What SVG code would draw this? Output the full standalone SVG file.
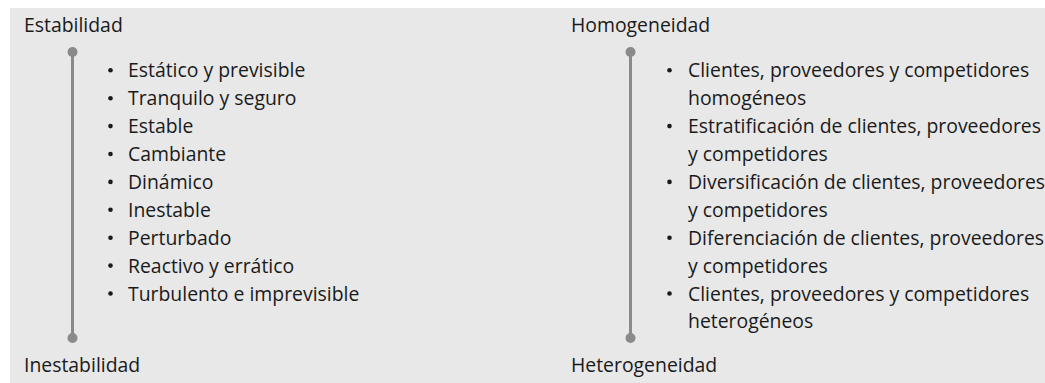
<svg xmlns="http://www.w3.org/2000/svg" width="1045" height="383" viewBox="0 0 1045 383">
<style>
text{font-family:"Open Sans","Liberation Sans",sans-serif;font-size:19.4px;fill:#1a1a1a}
.b{fill:#1a1a1a}
.axis{stroke:#8a8a8a;stroke-width:3;fill:none}
.dot{fill:#8a8a8a}
</style>
<rect x="10" y="8" width="1035" height="375" fill="#e8e8e8"/>
<g id="connectors">
<line class="axis" x1="72.5" y1="52" x2="72.5" y2="338"/>
<circle class="dot" cx="72.5" cy="52" r="5"/>
<circle class="dot" cx="72.5" cy="338" r="5"/>
<line class="axis" x1="630.5" y1="52" x2="630.5" y2="338"/>
<circle class="dot" cx="630.5" cy="52" r="5"/>
<circle class="dot" cx="630.5" cy="338" r="5"/>
</g>
<g id="estabilidad"><text x="24" y="32">Estabilidad</text></g>
<g id="inestabilidad"><text x="24" y="372">Inestabilidad</text></g>
<g id="homogeneidad"><text x="571" y="32">Homogeneidad</text></g>
<g id="heterogeneidad"><text x="571" y="372">Heterogeneidad</text></g>
<g id="lista-estabilidad">
<circle class="b" cx="110.5" cy="70.3" r="2.3"/><text x="128" y="77.3">Estático y previsible</text>
<circle class="b" cx="110.5" cy="98.2" r="2.3"/><text x="128" y="105.2">Tranquilo y seguro</text>
<circle class="b" cx="110.5" cy="126.1" r="2.3"/><text x="128" y="133.1">Estable</text>
<circle class="b" cx="110.5" cy="154" r="2.3"/><text x="128" y="161">Cambiante</text>
<circle class="b" cx="110.5" cy="181.9" r="2.3"/><text x="128" y="188.9">Dinámico</text>
<circle class="b" cx="110.5" cy="209.8" r="2.3"/><text x="128" y="216.8">Inestable</text>
<circle class="b" cx="110.5" cy="237.7" r="2.3"/><text x="128" y="244.7">Perturbado</text>
<circle class="b" cx="110.5" cy="265.6" r="2.3"/><text x="128" y="272.6">Reactivo y errático</text>
<circle class="b" cx="110.5" cy="293.5" r="2.3"/><text x="128" y="300.5">Turbulento e imprevisible</text>
</g>
<g id="lista-homogeneidad">
<circle class="b" cx="669.5" cy="70.3" r="2.3"/><text x="688" y="77.3">Clientes, proveedores y competidores</text>
<text x="688" y="105.2">homogéneos</text>
<circle class="b" cx="669.5" cy="126.1" r="2.3"/><text x="688" y="133.1">Estratificación de clientes, proveedores</text>
<text x="688" y="161">y competidores</text>
<circle class="b" cx="669.5" cy="181.9" r="2.3"/><text x="688" y="188.9">Diversificación de clientes, proveedores</text>
<text x="688" y="216.8">y competidores</text>
<circle class="b" cx="669.5" cy="237.7" r="2.3"/><text x="688" y="244.7">Diferenciación de clientes, proveedores</text>
<text x="688" y="272.6">y competidores</text>
<circle class="b" cx="669.5" cy="293.5" r="2.3"/><text x="688" y="300.5">Clientes, proveedores y competidores</text>
<text x="688" y="328.4">heterogéneos</text>
</g>
</svg>
